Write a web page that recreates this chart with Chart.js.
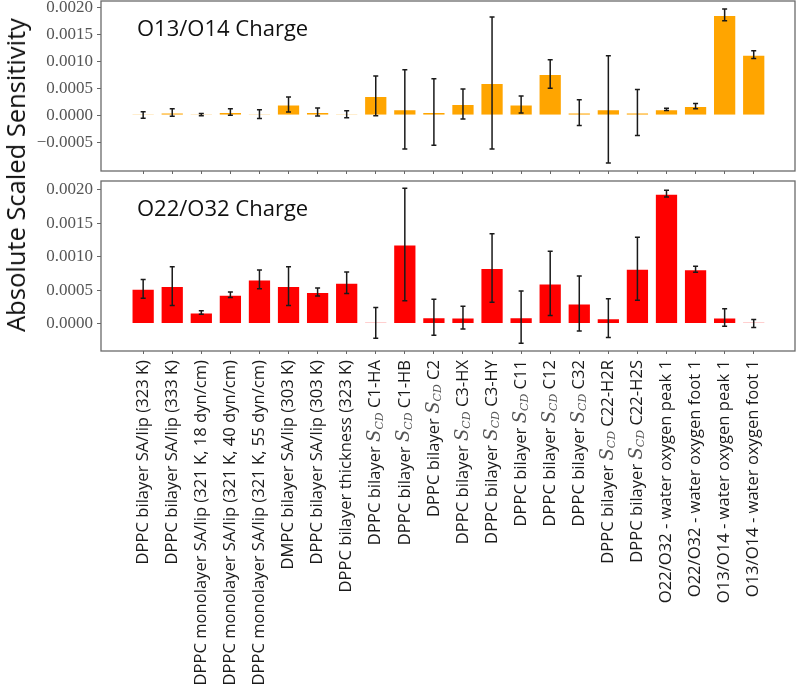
<!DOCTYPE html>
<html>
<head>
<meta charset="utf-8">
<script src="https://cdn.jsdelivr.net/npm/chart.js@4.4.1/dist/chart.umd.min.js"></script>
<style>
  html, body { margin: 0; padding: 0; background: #fff; }
  #wrap { position: relative; width: 800px; height: 693px; overflow: hidden; }
  #topChart { position: absolute; left: 0; top: 0; }
  #bottomChart { position: absolute; left: 0; top: 176px; }
  #ytitle {
    position: absolute; left: 15px; top: 175px;
    transform: translate(-50%, -50%) rotate(-90deg);
    font-family: "Open Sans", sans-serif; font-size: 25.5px; color: #111;
    white-space: nowrap;
  }
</style>
</head>
<body>
<div id="wrap">
  <canvas id="topChart" width="800" height="176"></canvas>
  <canvas id="bottomChart" width="800" height="517"></canvas>
  <div id="ytitle">Absolute Scaled Sensitivity</div>
</div>
<script>
const labels = [
  "DPPC bilayer SA/lip (323 K)",
  "DPPC bilayer SA/lip (333 K)",
  "DPPC monolayer SA/lip (321 K, 18 dyn/cm)",
  "DPPC monolayer SA/lip (321 K, 40 dyn/cm)",
  "DPPC monolayer SA/lip (321 K, 55 dyn/cm)",
  "DMPC bilayer SA/lip (303 K)",
  "DPPC bilayer SA/lip (303 K)",
  "DPPC bilayer thickness (323 K)",
  "DPPC bilayer S_CD C1-HA",
  "DPPC bilayer S_CD C1-HB",
  "DPPC bilayer S_CD C2",
  "DPPC bilayer S_CD C3-HX",
  "DPPC bilayer S_CD C3-HY",
  "DPPC bilayer S_CD C11",
  "DPPC bilayer S_CD C12",
  "DPPC bilayer S_CD C32",
  "DPPC bilayer S_CD C22-H2R",
  "DPPC bilayer S_CD C22-H2S",
  "O22/O32 - water oxygen peak 1",
  "O22/O32 - water oxygen foot 1",
  "O13/O14 - water oxygen peak 1",
  "O13/O14 - water oxygen foot 1"
];

// O13/O14 charge sensitivities and error bars
const o1314 = [0.000003, 0.00005, 0.00001, 0.00006, 0.00002, 0.0002, 0.00006, 0.00002,
  0.00036, 0.00011, 0.00006, 0.00021, 0.0006, 0.0002, 0.00077, 0.00005,
  0.00011, 0.00005, 0.00011, 0.00017, 0.00187, 0.00113];
const o1314Err = [0.00006, 0.00007, 0.00002, 0.00006, 0.00008, 0.00014, 0.000075, 0.000065,
  0.00037, 0.00074, 0.00062, 0.00028, 0.00123, 0.00016, 0.000265, 0.00024,
  0.001, 0.00043, 0.00002, 0.00005, 0.00011, 0.00007];

// O22/O32 charge sensitivities and error bars
const o2232 = [0.00052, 0.00056, 0.000165, 0.00043, 0.00066, 0.00056, 0.00047, 0.00061,
  0.00001, 0.00118, 0.000095, 0.00009, 0.00083, 0.000095, 0.0006, 0.0003,
  0.00008, 0.00082, 0.00194, 0.00081, 0.00009, 0.000002];
const o2232Err = [0.00014, 0.00029, 0.000025, 0.00004, 0.00014, 0.00029, 0.00006, 0.00016,
  0.00023, 0.00084, 0.00027, 0.00017, 0.00051, 0.00039, 0.00048, 0.00041,
  0.00029, 0.00047, 0.00005, 0.000045, 0.00013, 0.00006];

const topTicks = [-0.0005, 0, 0.0005, 0.001, 0.0015, 0.002];
const bottomTicks = [0, 0.0005, 0.001, 0.0015, 0.002];

const fmt = (v) => (v < 0 ? "\u2212" : "") + Math.abs(v).toFixed(4);

const noPad = (axis) => {
  axis.paddingTop = 0; axis.paddingBottom = 0;
  axis.paddingLeft = 0; axis.paddingRight = 0;
};

// error bars drawn on top of the bars
const errorBars = {
  id: "errorBars",
  afterDatasetsDraw(chart, args, opts) {
    const { ctx } = chart;
    const xs = chart.scales.x, ys = chart.scales.y;
    ctx.save();
    ctx.strokeStyle = "#1a1a1a";
    ctx.lineWidth = 1.5;
    opts.values.forEach((v, i) => {
      const x = xs.getPixelForValue(i);
      const y1 = ys.getPixelForValue(v + opts.errors[i]);
      const y2 = ys.getPixelForValue(v - opts.errors[i]);
      ctx.beginPath();
      ctx.moveTo(x, y1); ctx.lineTo(x, y2);
      ctx.moveTo(x - 2.5, y1); ctx.lineTo(x + 2.5, y1);
      ctx.moveTo(x - 2.5, y2); ctx.lineTo(x + 2.5, y2);
      ctx.stroke();
    });
    ctx.restore();
  }
};

// box around plot area + panel title
const frame = {
  id: "frame",
  afterDraw(chart, args, opts) {
    const { ctx, chartArea: a } = chart;
    ctx.save();
    ctx.strokeStyle = "#6a6a6a";
    ctx.lineWidth = 1.3;
    ctx.strokeRect(a.left, a.top, a.right - a.left, a.bottom - a.top);
    ctx.fillStyle = "#111";
    ctx.font = '22px "Open Sans", sans-serif';
    ctx.textBaseline = "alphabetic";
    ctx.fillText(opts.title, 137, a.top + opts.titleY);
    ctx.restore();
  }
};

// rotated category labels with S_CD subscript
const xLabels = {
  id: "xLabels",
  afterDraw(chart) {
    const { ctx } = chart;
    const xs = chart.scales.x;
    const y0 = chart.chartArea.bottom + 9;
    const sans = '16.6px "Open Sans", sans-serif';
    labels.forEach((lab, i) => {
      let parts;
      if (lab.includes("S_CD")) {
        const [a, b] = lab.split("S_CD");
        parts = [
          { text: a, font: sans, color: "#1a1a1a", dy: 0 },
          { text: "S", font: 'italic 18px "DejaVu Serif", serif', color: "#555", dy: 0 },
          { text: "CD", font: 'italic 11px "DejaVu Serif", serif', color: "#555", dy: 4 },
          { text: b, font: sans, color: "#1a1a1a", dy: 0 }
        ];
      } else {
        parts = [{ text: lab, font: sans, color: "#1a1a1a", dy: 0 }];
      }
      let total = 0;
      parts.forEach((p) => { ctx.font = p.font; p.w = ctx.measureText(p.text).width; total += p.w; });
      ctx.save();
      ctx.translate(xs.getPixelForValue(i), y0);
      ctx.rotate(-Math.PI / 2);
      ctx.textBaseline = "middle";
      let cx = -total;
      parts.forEach((p) => {
        ctx.font = p.font; ctx.fillStyle = p.color;
        ctx.fillText(p.text, cx, p.dy);
        cx += p.w;
      });
      ctx.restore();
    });
  }
};

function makeChart(id, values, errors, color, yMin, yTicks, title, xHeight, padTop, drawLabels) {
  const ctx = document.getElementById(id).getContext("2d");
  return new Chart(ctx, {
    type: "bar",
    data: {
      datasets: [{
        data: values.map((v, i) => ({ x: i, y: v })),
        backgroundColor: color,
        borderColor: "rgba(255,255,255,0.55)",
        borderWidth: 1,
        minBarLength: 1.2,
        barPercentage: 0.8,
        categoryPercentage: 1.0
      }]
    },
    options: {
      responsive: false,
      animation: false,
      devicePixelRatio: 1,
      layout: { padding: { left: 0, right: 5, top: padTop, bottom: 0 } },
      plugins: {
        legend: { display: false },
        tooltip: { enabled: false },
        errorBars: { values: values, errors: errors },
        frame: { title: title, titleY: 35 }
      },
      scales: {
        x: {
          type: "linear",
          offset: false,
          min: -1.45,
          max: 22.42,
          afterBuildTicks: (axis) => { axis.ticks = labels.map((_, i) => ({ value: i })); },
          afterFit: (axis) => { axis.height = xHeight; noPad(axis); },
          ticks: { display: false },
          grid: { drawOnChartArea: false, drawTicks: true, tickLength: 3, color: "#666", offset: false },
          border: { display: false }
        },
        y: {
          min: yMin,
          max: 0.00213,
          afterBuildTicks: (axis) => { axis.ticks = yTicks.map((v) => ({ value: v })); },
          afterFit: (axis) => { axis.width = 101; noPad(axis); },
          ticks: {
            callback: (v) => fmt(v),
            font: { family: '"Liberation Serif", serif', size: 17 },
            color: "#555",
            padding: 4
          },
          grid: { drawOnChartArea: false, drawTicks: true, tickLength: 4, color: "#666" },
          border: { display: false }
        }
      }
    },
    plugins: drawLabels ? [errorBars, frame, xLabels] : [errorBars, frame]
  });
}

makeChart("topChart", o1314, o1314Err, "#FFA500", -0.00104, topTicks, "O13/O14 Charge", 5, 1, false);
makeChart("bottomChart", o2232, o2232Err, "#FF0000", -0.00041, bottomTicks, "O22/O32 Charge", 342, 5, true);
</script>
</body>
</html>
